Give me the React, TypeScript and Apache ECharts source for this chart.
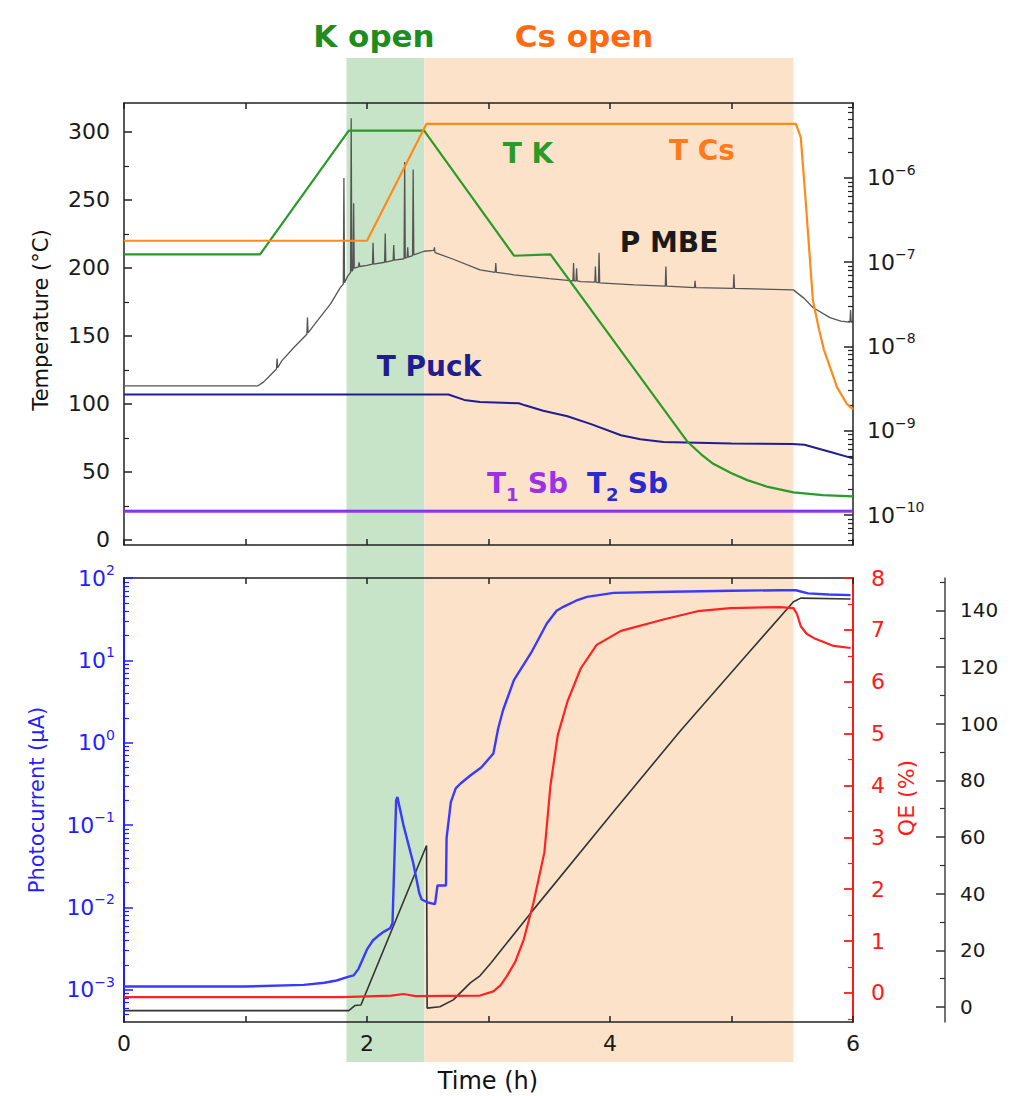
import React, { useEffect, useRef } from 'react';
import * as echarts from 'echarts';

// ---------- data (time in hours) ----------
const kOpenWindow = [1.831, 2.473];
const csOpenWindow = [2.473, 5.51];

const tK: number[][] = [[0, 210], [1.12, 210], [1.85, 301], [2.47, 301], [3.21, 209], [3.51, 210], [4.64, 72], [4.75, 63], [4.85, 56], [5.0, 49], [5.13, 44], [5.3, 39], [5.51, 35], [5.75, 33], [6, 32]];
const tCs: number[][] = [[0, 220], [2.0, 220], [2.49, 306], [5.53, 306], [5.57, 296], [5.61, 250], [5.67, 176], [5.72, 155], [5.76, 140], [5.87, 112], [5.95, 100], [6, 96]];
const tPuck: number[][] = [[0, 107], [2.67, 107], [2.8, 103], [2.93, 101.5], [3.25, 100.5], [3.3, 99], [3.45, 95], [3.65, 91], [3.85, 85], [4.09, 77], [4.25, 74], [4.44, 72], [5.0, 71], [5.5, 70.5], [5.6, 70], [5.8, 65], [6, 60]];
const t1Sb: number[][] = [[0, 21], [6, 21]];
const t2Sb: number[][] = [[0, 21.5], [6, 21.5]];
// pressure in mbar
const pMBE: number[][] = [
  [0, 3.4e-9], [0.6, 3.4e-9], [1.1, 3.4e-9], [1.15, 3.8e-9], [1.2, 4.5e-9], [1.255, 5.4e-9], [1.26, 7.2e-9], [1.265, 5.6e-9],
  [1.3, 6.8e-9], [1.4, 9.8e-9], [1.505, 1.4e-8], [1.51, 2.2e-8], [1.515, 1.45e-8], [1.6, 2.1e-8], [1.7, 3.2e-8], [1.78, 5.0e-8],
  [1.805, 5.5e-8], [1.81, 1.0e-6],
  [1.815, 5.7e-8], [1.84, 6.8e-8], [1.865, 7.6e-8], [1.87, 5.1e-6], [1.875, 7.8e-8], [1.885, 8.2e-8], [1.89, 5e-7], [1.895, 8.5e-8],
  [1.93, 8.8e-8], [1.935, 1.0e-7], [1.94, 8.9e-8], [2.0, 9.2e-8], [2.045, 9.5e-8], [2.05, 1.7e-7], [2.055, 9.5e-8], [2.145, 1.0e-7],
  [2.15, 2.2e-7], [2.155, 1.0e-7], [2.215, 1.05e-7], [2.22, 1.6e-7], [2.225, 1.06e-7], [2.305, 1.1e-7], [2.31, 1.55e-6], [2.315, 1.12e-7],
  [2.33, 1.14e-7], [2.335, 1.5e-7], [2.34, 1.15e-7], [2.375, 1.2e-7], [2.38, 1.26e-6], [2.385, 1.22e-7], [2.47, 1.35e-7], [2.55, 1.38e-7],
  [2.555, 1.5e-7], [2.56, 1.3e-7], [2.7, 1.1e-7], [2.93, 8.1e-8], [3.055, 7.6e-8], [3.06, 9.8e-8], [3.065, 7.6e-8], [3.21, 7.1e-8],
  [3.5, 6.4e-8], [3.695, 6.0e-8], [3.7, 9.8e-8], [3.705, 6.0e-8], [3.72, 6.0e-8], [3.725, 8.5e-8], [3.73, 6.0e-8], [3.76, 5.9e-8],
  [3.875, 5.8e-8], [3.88, 8.9e-8], [3.885, 5.8e-8], [3.905, 5.7e-8], [3.91, 1.3e-7], [3.915, 5.7e-8], [4.2, 5.4e-8], [4.455, 5.2e-8],
  [4.46, 8.9e-8], [4.465, 5.2e-8], [4.58, 5.1e-8], [4.695, 5.0e-8], [4.7, 6e-8], [4.705, 5.0e-8], [5.015, 4.9e-8], [5.02, 7.2e-8],
  [5.025, 4.9e-8], [5.51, 4.7e-8], [5.6, 3.7e-8], [5.67, 2.9e-8], [5.81, 2.2e-8], [5.9, 2.0e-8], [5.975, 1.95e-8], [5.98, 2.7e-8],
  [5.985, 1.95e-8], [6, 1.95e-8]
];
// photocurrent in µA
const photocurrent: number[][] = [
  [0, 1.1e-3], [1.0, 1.1e-3], [1.48, 1.15e-3], [1.65, 1.22e-3], [1.75, 1.3e-3], [1.85, 1.45e-3], [1.89, 1.5e-3], [1.93, 1.8e-3],
  [1.95, 2.1e-3], [2.0, 3.1e-3], [2.05, 4.0e-3], [2.09, 4.5e-3], [2.14, 5.1e-3], [2.19, 5.6e-3], [2.21, 6.5e-3], [2.24, 0.2],
  [2.25, 0.22], [2.3, 0.1], [2.38, 0.035], [2.43, 0.015], [2.45, 0.0125], [2.5, 0.0115], [2.56, 0.011], [2.58, 0.0185],
  [2.65, 0.0185], [2.655, 0.07], [2.69, 0.19], [2.73, 0.28], [2.77, 0.32], [2.85, 0.4], [2.94, 0.5], [3.04, 0.74], [3.08, 1.5],
  [3.12, 2.5], [3.21, 5.8], [3.35, 12.3], [3.48, 28], [3.56, 40], [3.62, 45], [3.72, 53], [3.81, 59], [4.03, 66], [4.5, 68],
  [5.0, 70], [5.4, 71], [5.53, 71], [5.63, 65], [5.8, 63], [5.98, 62]
];
const qe: number[][] = [
  [0, -0.08], [1.8, -0.08], [2.2, -0.05], [2.3, -0.02], [2.4, -0.06], [2.93, -0.05], [3.04, 0.03], [3.1, 0.15], [3.15, 0.32],
  [3.22, 0.6], [3.29, 1.03], [3.37, 1.74], [3.46, 2.71], [3.51, 4.0], [3.57, 4.97], [3.65, 5.62], [3.76, 6.26], [3.89, 6.71],
  [4.09, 6.98], [4.44, 7.2], [4.72, 7.36], [4.99, 7.42], [5.4, 7.44], [5.51, 7.42], [5.54, 7.3], [5.57, 7.07], [5.62, 6.92],
  [5.68, 6.84], [5.84, 6.69], [5.98, 6.65]
];
const charge: number[][] = [
  [0, -1.3], [1.85, -1.3], [1.9, 0.5], [1.95, 0.7], [2.49, 57], [2.495, -0.4], [2.6, 0.1], [2.71, 2.5], [2.85, 8.5], [2.93, 11],
  [3.02, 15.5], [3.35, 33.3], [4.03, 69], [4.58, 97.5], [5.13, 124.5], [5.51, 143], [5.57, 144.3], [5.98, 144]
];

const tempTicks = [0, 50, 100, 150, 200, 250, 300];
const tempMinor = [25, 75, 125, 175, 225, 275];
const pressTicks = [-10, -9, -8, -7, -6];
const pcTicks = [-3, -2, -1, 0, 1, 2];
const qeTicks = [0, 1, 2, 3, 4, 5, 6, 7, 8];
const qeMinor = [-0.5, 0.5, 1.5, 2.5, 3.5, 4.5, 5.5, 6.5, 7.5];
const chargeTicks = [0, 20, 40, 60, 80, 100, 120, 140];
const chargeMinor = [10, 30, 50, 70, 90, 110, 130, 150];
const timeTicks = [0, 2, 4, 6];

const FONT = 'DejaVu Sans';

function logMinor(lo: number, hi: number): number[] {
  const out: number[] = [];
  for (let n = Math.floor(lo) - 1; n <= Math.ceil(hi); n++) {
    for (let k = 2; k <= 9; k++) {
      const v = n + Math.log10(k);
      if (v > lo && v < hi) out.push(v);
    }
  }
  return out;
}

const toLog = (arr: number[][]) => arr.map(([t, v]) => [t, Math.log10(v)]);
const sup = (v: number) => `{b|10}{s|${v < 0 ? '\u2212' + -v : v}}`;
const supRich = {
  b: { fontSize: 22, fontFamily: FONT, lineHeight: 30 },
  s: { fontSize: 14, fontFamily: FONT, lineHeight: 14, verticalAlign: 'top' },
};

function buildOption() {
  const P_MIN = -10.356, P_MAX = -5.11;
  const PC_MIN = -3.39, PC_MAX = 2;
  const xAx = (gridIndex: number, position: string, labels: boolean) => ({
    type: 'value', gridIndex, position, min: 0, max: 6, interval: 1,
    axisLine: { show: true, onZero: false, lineStyle: { color: '#222', width: 1.5 } },
    axisTick: { show: true, inside: true, length: 6, lineStyle: { color: '#222', width: 1.5 } },
    axisLabel: labels
      ? { show: true, fontFamily: FONT, fontSize: 22, color: '#1a1a1a', margin: 10, customValues: timeTicks }
      : { show: false },
    splitLine: { show: false },
  });
  const yAx = (o: any) => ({
    type: 'value', splitLine: { show: false },
    ...o,
  });
  const minorAx = (gridIndex: number, position: string, min: number, max: number, vals: number[], color: string, length: number, offset = 0) => yAx({
    gridIndex, position, min, max, offset,
    axisLine: { show: false, onZero: false },
    axisTick: { show: true, inside: true, length, customValues: vals, lineStyle: { color, width: 1.2 } },
    axisLabel: { show: false },
  });

  return {
    animation: false,
    backgroundColor: '#ffffff',
    grid: [
      { left: 124, top: 103, width: 729, height: 442 },
      { left: 124, top: 578, width: 729, height: 444 },
    ],
    xAxis: [xAx(0, 'bottom', false), xAx(0, 'top', false), xAx(1, 'bottom', true), xAx(1, 'top', false)],
    yAxis: [
      yAx({
        gridIndex: 0, position: 'left', min: -3.7, max: 321.3,
        axisLine: { show: true, onZero: false, lineStyle: { color: '#222', width: 1.5 } },
        axisTick: { show: true, inside: true, length: 8, customValues: tempTicks, lineStyle: { color: '#222', width: 1.5 } },
        axisLabel: { show: true, customValues: tempTicks, fontFamily: FONT, fontSize: 22, color: '#1a1a1a', margin: 14 },
      }),
      minorAx(0, 'left', -3.7, 321.3, tempMinor, '#222', 5),
      yAx({
        gridIndex: 0, position: 'right', min: P_MIN, max: P_MAX,
        axisLine: { show: true, onZero: false, lineStyle: { color: '#222', width: 1.5 } },
        axisTick: { show: true, inside: true, length: 9, customValues: pressTicks, lineStyle: { color: '#222', width: 1.5 } },
        axisLabel: { show: true, customValues: pressTicks, color: '#1a1a1a', margin: 14, formatter: (v: number) => sup(Math.round(v)), rich: supRich },
      }),
      minorAx(0, 'right', P_MIN, P_MAX, logMinor(P_MIN, P_MAX), '#222', 5),
      yAx({
        gridIndex: 1, position: 'left', min: PC_MIN, max: PC_MAX,
        axisLine: { show: true, onZero: false, lineStyle: { color: '#1f1fff', width: 2 } },
        axisTick: { show: true, inside: true, length: 9, customValues: pcTicks, lineStyle: { color: '#1f1fff', width: 1.5 } },
        axisLabel: { show: true, customValues: pcTicks, color: '#1f1fff', margin: 9, formatter: (v: number) => sup(Math.round(v)), rich: supRich },
      }),
      minorAx(1, 'left', PC_MIN, PC_MAX, logMinor(PC_MIN, PC_MAX), '#1f1fff', 5),
      yAx({
        gridIndex: 1, position: 'right', min: -0.56, max: 8,
        axisLine: { show: true, onZero: false, lineStyle: { color: '#ff1a1a', width: 2 } },
        axisTick: { show: true, inside: true, length: 9, customValues: qeTicks, lineStyle: { color: '#ff1a1a', width: 1.8 } },
        axisLabel: { show: true, customValues: qeTicks, fontFamily: FONT, fontSize: 22, color: '#ff1a1a', margin: 18 },
      }),
      minorAx(1, 'right', -0.56, 8, qeMinor, '#ff1a1a', 5),
      yAx({
        gridIndex: 1, position: 'right', offset: 92, min: -5.3, max: 151.4,
        axisLine: { show: true, onZero: false, lineStyle: { color: '#444', width: 1.5 } },
        axisTick: { show: true, inside: true, length: 9, customValues: chargeTicks, lineStyle: { color: '#333', width: 1.5 } },
        axisLabel: { show: true, customValues: chargeTicks, fontFamily: FONT, fontSize: 20, color: '#1a1a1a', margin: 15 },
      }),
      minorAx(1, 'right', -5.3, 151.4, chargeMinor, '#333', 5, 92),
    ],
    series: [
      line('T2 Sb', t2Sb, 0, 0, '#3a2ad8', 2),
      line('T1 Sb', t1Sb, 0, 0, '#9a32f0', 2.5),
      line('T Puck', tPuck, 0, 0, '#1e1e8e', 2),
      line('P MBE', toLog(pMBE), 0, 2, '#555555', 1.3),
      line('T K', tK, 0, 0, '#2a9a2a', 2.2),
      line('T Cs', tCs, 0, 0, '#ff8a1a', 2.2),
      line('Charge', charge, 2, 8, '#333333', 1.6),
      line('QE', qe, 2, 6, '#ff2222', 2.2),
      line('Photocurrent', toLog(photocurrent), 2, 4, '#3a3aff', 2.4),
    ],
  };
}

function line(name: string, data: number[][], xAxisIndex: number, yAxisIndex: number, color: string, width: number) {
  return {
    type: 'line', name, data, xAxisIndex, yAxisIndex, showSymbol: false, symbol: 'none', silent: true, z: 3,
    lineStyle: { color, width }, itemStyle: { color },
  };
}

function text(t: string, x: number, y: number, color: string, size: number, weight = 'bold', rotation = 0, align = 'center') {
  return {
    type: 'text', x, y, rotation, z: 100, silent: true,
    style: {
      text: t, fill: color, fontSize: size, fontWeight: weight, fontFamily: FONT,
      align, verticalAlign: 'middle', textAlign: align, textVerticalAlign: 'middle',
    },
  };
}

// "T", subscript, " Sb" as three left-aligned pieces
function subLabel(x: number, y: number, sub: string, color: string) {
  return [
    text('T', x, y, color, 28, 'bold', 0, 'left'),
    text(sub, x + 19, y + 11, color, 18, 'bold', 0, 'left'),
    text(' Sb', x + 31, y, color, 28, 'bold', 0, 'left'),
  ];
}

export default function App() {
  const ref = useRef<HTMLDivElement>(null);
  useEffect(() => {
    document.body.style.margin = '0';
    const chart = echarts.init(ref.current!, null, { renderer: 'svg' });
    chart.setOption(buildOption() as any);
    const px = (v: number) => chart.convertToPixel({ xAxisIndex: 0 }, v) as unknown as number;
    const kx1 = px(kOpenWindow[0]), kx2 = px(kOpenWindow[1]);
    const cx1 = px(csOpenWindow[0]), cx2 = px(csOpenWindow[1]);
    const bandTop = 58, bandBottom = 1062;
    chart.setOption({
      graphic: [
        { type: 'rect', z: -100, silent: true, shape: { x: kx1, y: bandTop, width: kx2 - kx1, height: bandBottom - bandTop }, style: { fill: 'rgb(200,228,200)' } },
        { type: 'rect', z: -100, silent: true, shape: { x: cx1, y: bandTop, width: cx2 - cx1, height: bandBottom - bandTop }, style: { fill: 'rgb(252,226,201)' } },
        text('K open', 374, 36, '#1e8c1e', 31),
        text('Cs open', 584, 36, '#ff6a10', 31),
        text('T K', 528, 153, '#2a9a2a', 28),
        text('T Cs', 702, 150, '#ff7a1a', 28),
        text('P MBE', 669, 242, '#1a1a1a', 28),
        text('T Puck', 429, 366, '#1e1e8e', 28),
        ...subLabel(487, 483, '1', '#9a32e8'),
        ...subLabel(587, 483, '2', '#2a2ad0'),
        text('Temperature (\u00B0C)', 41, 320, '#111111', 21, 'normal', Math.PI / 2),
        text('Photocurrent (\u00B5A)', 37, 800, '#1f1fff', 21, 'normal', Math.PI / 2),
        text('QE (%)', 906, 798, '#ff1a1a', 22, 'normal', Math.PI / 2),
        text('Time (h)', 488, 1081, '#111111', 24, 'normal'),
      ],
    } as any);
    return () => chart.dispose();
  }, []);
  return <div ref={ref} style={{ width: 1011, height: 1096, position: 'absolute', left: 0, top: 0, background: '#fff' }} />;
}
